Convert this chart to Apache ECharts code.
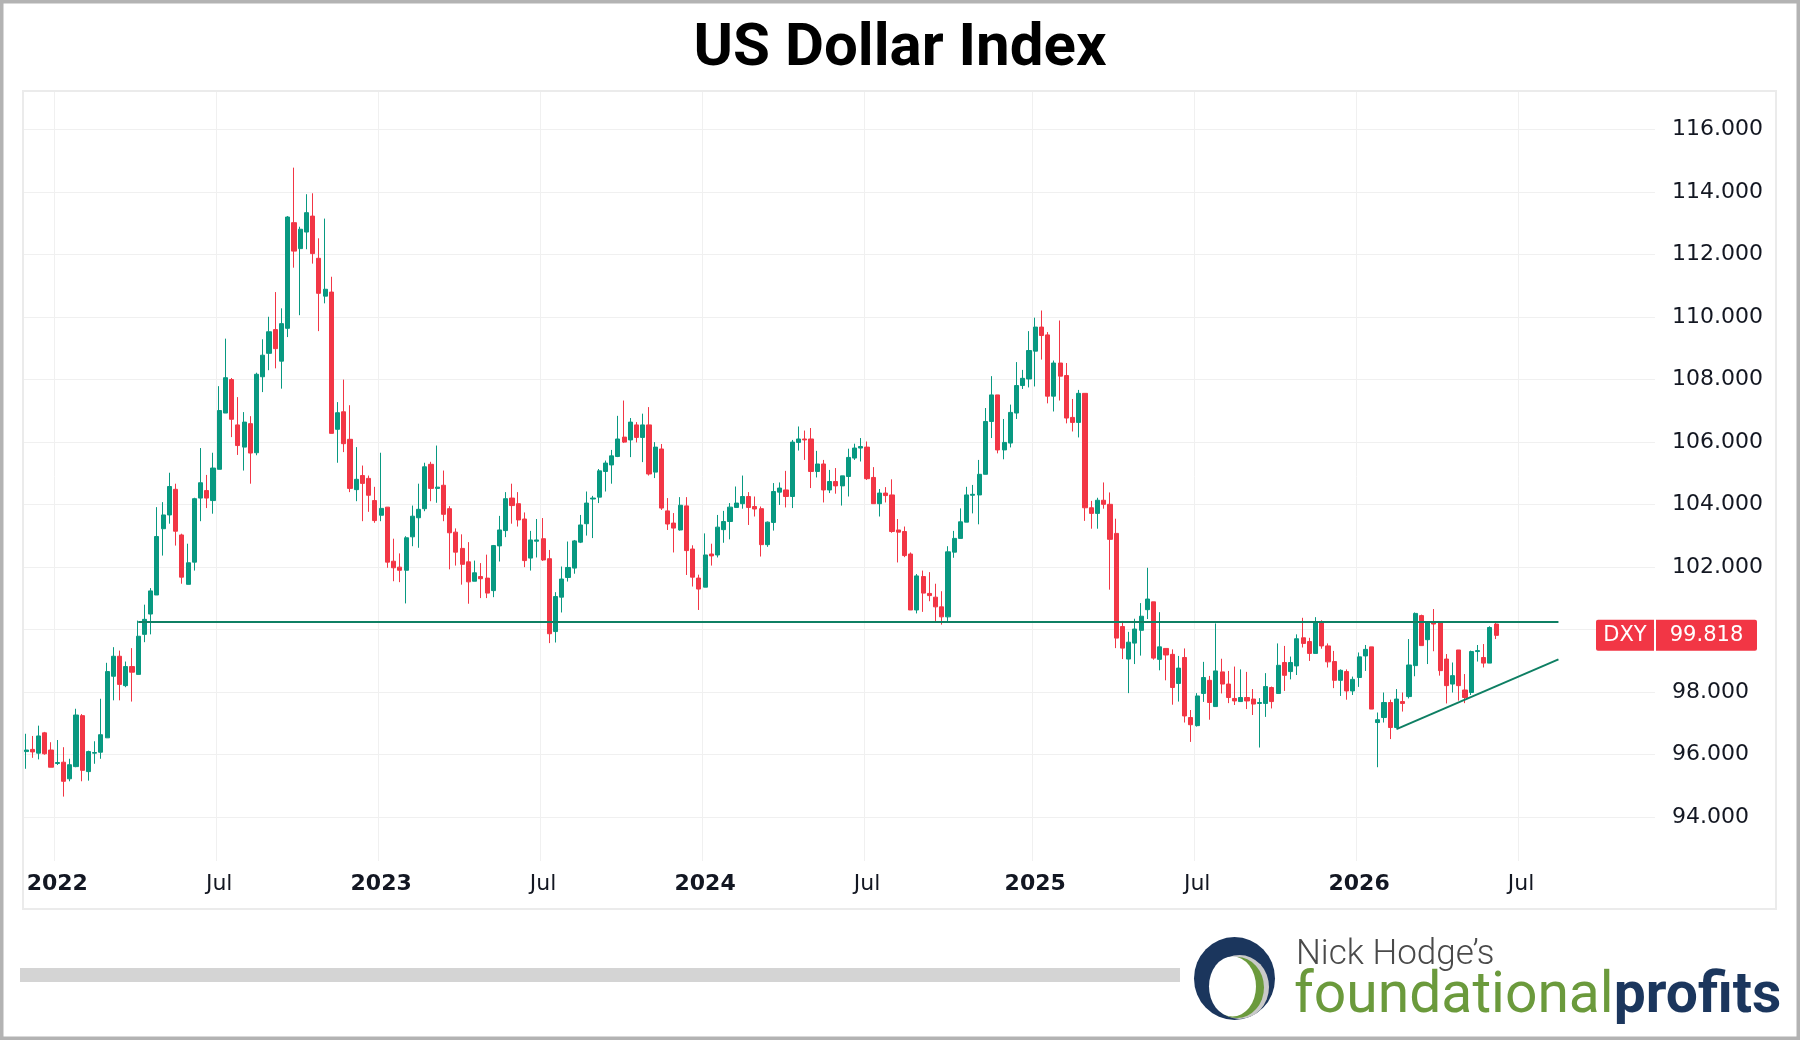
<!DOCTYPE html>
<html>
<head>
<meta charset="utf-8">
<title>US Dollar Index</title>
<script src="https://cdn.jsdelivr.net/npm/echarts@6/dist/echarts.min.js"></script>
<style>
  html, body { margin: 0; padding: 0; background: #fff; }
  #chart { width: 1800px; height: 1040px; }
</style>
</head>
<body>
<div id="chart"></div>
<script>
// weekly DXY candles, first bar = week of 2021-11-29
var firstWeek = '2021-11-29';
var weekCount = 262; // axis runs past the last bar, to mid-Jan 2027

var open = [
  96.10, 96.17, 96.05, 96.70, 96.15, 95.72, 95.76, 95.23, 95.62, 97.25,
  95.46, 96.05, 96.08, 96.54, 98.51, 99.15, 98.21, 98.82, 98.57, 99.85,
  100.50, 101.11, 103.23, 103.67, 104.49, 103.03, 101.45, 102.16, 104.21, 104.45,
  104.13, 105.13, 106.93, 108.00, 106.55, 105.84, 106.59, 105.66, 108.09, 108.84,
  109.60, 108.59, 109.64, 113.02, 112.19, 112.72, 113.23, 111.88, 110.67, 110.80,
  106.41, 106.97, 106.09, 104.48, 104.93, 104.84, 104.13, 103.66, 103.92, 102.19,
  102.00, 101.90, 102.97, 103.58, 103.87, 105.29, 104.52, 104.62, 103.87, 103.12,
  102.60, 102.17, 101.55, 101.70, 101.65, 101.25, 102.68, 103.17, 104.21, 104.03,
  103.54, 102.29, 102.83, 102.91, 102.27, 99.94, 101.04, 101.67, 101.97, 102.80,
  103.39, 104.18, 104.24, 105.06, 105.27, 105.54, 106.16, 106.07, 106.55, 106.15,
  106.55, 105.04, 105.78, 103.80, 103.41, 103.19, 103.96, 102.58, 101.65, 101.36,
  102.42, 102.39, 103.20, 103.46, 103.91, 104.03, 104.26, 103.94, 103.87, 102.72,
  103.43, 104.40, 104.47, 104.26, 105.99, 106.10, 106.10, 105.06, 105.30, 104.47,
  104.74, 104.60, 104.90, 105.49, 105.81, 105.84, 104.87, 104.03, 104.37, 104.31,
  103.19, 103.14, 102.42, 100.63, 101.70, 101.16, 101.04, 100.73, 100.41, 102.48,
  102.92, 103.44, 104.30, 104.31, 104.97, 106.66, 107.51, 105.75, 105.97, 106.93,
  107.81, 108.02, 108.91, 109.68, 109.43, 107.47, 108.53, 108.13, 106.79, 106.63,
  107.56, 103.90, 103.72, 104.14, 104.01, 103.08, 100.10, 99.06, 99.57, 99.98,
  100.64, 100.89, 99.05, 99.40, 99.21, 98.28, 99.11, 97.19, 96.93, 97.96,
  98.38, 97.54, 98.65, 98.26, 97.80, 97.70, 97.83, 97.78, 97.64, 97.64,
  98.15, 97.96, 98.95, 98.66, 98.84, 99.74, 99.62, 99.24, 100.22, 99.48,
  98.98, 98.38, 98.66, 98.04, 98.47, 99.16, 99.45, 97.03, 97.19, 97.67,
  96.87, 97.70, 97.86, 98.85, 100.45, 99.68, 100.23, 100.23, 99.06, 98.26,
  99.35, 98.07, 97.99, 99.30, 99.11, 98.93, 100.18
];
var close = [
  96.15, 96.09, 96.60, 96.03, 95.60, 95.75, 95.15, 95.68, 97.27, 95.50,
  96.10, 96.07, 96.64, 98.66, 99.15, 98.25, 98.82, 98.64, 99.79, 100.33,
  101.24, 102.98, 103.67, 104.58, 103.15, 101.68, 102.14, 104.19, 104.70, 104.21,
  105.17, 107.01, 108.06, 106.73, 105.89, 106.64, 105.65, 108.17, 108.78, 109.53,
  108.99, 109.79, 113.20, 112.11, 112.81, 113.34, 112.03, 110.76, 110.89, 106.28,
  106.94, 105.95, 104.52, 104.81, 104.68, 104.30, 103.49, 103.88, 102.16, 101.98,
  101.90, 102.94, 103.63, 103.85, 105.21, 104.52, 104.56, 103.69, 103.10, 102.48,
  102.09, 101.53, 101.82, 101.63, 101.17, 102.69, 103.19, 104.19, 103.97, 103.51,
  102.21, 102.87, 102.87, 102.23, 99.87, 101.06, 101.62, 101.99, 102.84, 103.35,
  104.05, 104.21, 105.08, 105.33, 105.56, 106.10, 106.00, 106.64, 106.15, 106.55,
  104.98, 105.84, 103.89, 103.38, 103.25, 103.98, 102.53, 101.68, 101.30, 102.39,
  102.36, 103.28, 103.46, 103.92, 104.05, 104.26, 103.91, 103.86, 102.72, 103.44,
  104.42, 104.53, 104.26, 106.00, 106.10, 106.07, 105.06, 105.30, 104.47, 104.74,
  104.60, 104.92, 105.51, 105.81, 105.86, 104.83, 104.03, 104.37, 104.29, 103.14,
  103.12, 102.37, 100.63, 101.72, 101.17, 101.09, 100.73, 100.41, 102.49, 102.92,
  103.45, 104.31, 104.33, 104.97, 106.66, 107.51, 105.75, 105.99, 106.95, 107.81,
  108.04, 108.93, 109.68, 109.41, 107.47, 108.53, 108.11, 106.77, 106.63, 107.56,
  103.90, 103.72, 104.14, 104.01, 102.89, 99.73, 99.41, 99.60, 100.02, 100.43,
  100.98, 99.09, 99.45, 99.19, 98.15, 98.77, 97.24, 96.96, 97.88, 98.47,
  97.67, 98.68, 98.26, 97.83, 97.72, 97.83, 97.72, 97.62, 97.67, 98.18,
  97.70, 98.86, 98.54, 98.95, 99.71, 99.56, 99.24, 100.22, 99.48, 98.97,
  98.38, 98.70, 98.04, 98.41, 99.13, 99.37, 97.46, 97.12, 97.67, 96.87,
  97.78, 97.64, 98.87, 100.52, 99.49, 100.26, 100.18, 98.69, 98.21, 98.53,
  98.21, 97.83, 99.30, 99.33, 98.93, 100.07, 99.818
];
var low = [
  95.55, 95.90, 95.85, 96.00, 95.60, 95.67, 94.66, 95.15, 95.60, 95.15,
  95.17, 95.71, 95.87, 96.54, 97.74, 97.74, 98.16, 97.70, 98.57, 99.60,
  99.85, 101.11, 102.37, 103.39, 102.69, 101.47, 101.45, 101.89, 103.47, 103.89,
  103.71, 105.13, 106.93, 106.16, 105.59, 105.09, 104.67, 105.58, 107.60, 108.30,
  108.36, 107.71, 109.36, 111.58, 110.06, 112.17, 111.71, 109.55, 110.44, 106.28,
  105.34, 105.68, 104.40, 104.11, 103.47, 103.77, 103.42, 103.47, 101.98, 101.55,
  101.52, 100.84, 102.67, 102.62, 103.79, 104.11, 104.06, 103.47, 101.93, 102.05,
  101.44, 100.83, 101.55, 101.01, 101.01, 101.04, 102.18, 102.96, 103.39, 103.30,
  102.00, 101.89, 102.31, 102.20, 99.57, 99.59, 100.55, 101.54, 101.79, 102.77,
  103.01, 102.93, 104.05, 104.42, 104.67, 105.52, 105.97, 105.52, 105.99, 105.36,
  104.93, 104.85, 103.83, 103.19, 102.47, 103.17, 101.75, 101.38, 100.63, 101.36,
  102.05, 102.31, 102.78, 102.89, 103.91, 103.87, 103.35, 103.62, 102.34, 102.65,
  103.17, 103.99, 103.91, 103.89, 105.73, 105.43, 104.53, 104.87, 104.07, 104.37,
  104.35, 103.97, 104.26, 105.43, 105.38, 104.79, 104.03, 103.62, 104.07, 103.10,
  102.15, 102.32, 100.63, 100.52, 100.57, 100.91, 100.24, 100.16, 100.24, 102.30,
  102.92, 103.44, 103.72, 103.37, 104.97, 106.13, 105.64, 105.45, 105.83, 106.74,
  107.70, 107.75, 107.78, 108.64, 107.24, 106.98, 107.33, 106.60, 106.34, 106.15,
  103.48, 103.23, 103.23, 103.87, 101.28, 99.41, 99.06, 97.97, 98.90, 99.17,
  100.34, 99.04, 98.70, 98.38, 97.60, 97.70, 97.03, 96.41, 96.90, 97.69,
  97.12, 97.54, 97.96, 97.65, 97.59, 97.70, 97.46, 97.27, 96.23, 97.21,
  97.48, 97.96, 98.04, 98.41, 98.55, 99.43, 99.00, 99.24, 99.39, 98.79,
  98.13, 97.88, 97.76, 97.91, 98.17, 98.68, 97.46, 95.60, 97.03, 96.50,
  96.87, 97.38, 97.80, 98.51, 99.49, 98.90, 99.31, 98.53, 97.64, 97.99,
  97.73, 97.65, 97.91, 98.98, 98.79, 98.93, 99.70
];
var high = [
  96.67, 96.60, 96.93, 96.73, 96.40, 96.47, 96.24, 95.87, 97.47, 97.30,
  96.13, 96.43, 97.79, 98.94, 99.44, 99.33, 98.98, 99.41, 100.29, 100.80,
  101.33, 103.92, 104.08, 105.02, 104.67, 103.07, 102.75, 104.22, 105.81, 104.95,
  105.66, 107.79, 109.31, 108.05, 107.44, 106.96, 106.83, 108.22, 109.29, 110.01,
  110.80, 110.28, 113.23, 114.78, 112.89, 113.93, 113.96, 112.52, 113.15, 111.29,
  107.28, 108.00, 107.18, 105.84, 105.25, 104.93, 104.57, 105.66, 103.92, 102.91,
  102.44, 102.99, 103.97, 104.67, 105.34, 105.37, 105.89, 105.09, 103.95, 103.24,
  103.05, 102.80, 102.21, 102.13, 102.40, 102.71, 103.64, 104.40, 104.67, 104.40,
  103.75, 103.16, 103.54, 103.57, 102.55, 101.20, 102.02, 102.82, 102.87, 103.67,
  104.42, 104.28, 105.14, 105.41, 105.75, 106.84, 107.33, 106.77, 106.64, 106.91,
  107.12, 106.00, 105.94, 104.21, 103.73, 104.24, 104.24, 102.70, 101.76, 103.08,
  102.75, 103.67, 103.80, 104.05, 104.58, 104.93, 104.40, 104.26, 103.94, 103.46,
  104.69, 104.71, 105.08, 106.07, 106.50, 106.37, 106.45, 105.72, 105.43, 105.11,
  105.17, 104.92, 105.79, 105.95, 106.13, 106.02, 105.20, 104.50, 104.56, 104.81,
  103.54, 103.30, 102.47, 101.78, 101.89, 101.84, 101.47, 101.23, 102.67, 103.16,
  103.88, 104.57, 104.63, 105.43, 107.09, 108.11, 107.51, 106.74, 107.20, 108.56,
  108.31, 109.55, 109.98, 110.21, 109.52, 108.61, 109.89, 108.53, 107.38, 107.67,
  107.56, 104.12, 104.22, 104.71, 104.39, 103.55, 100.28, 99.93, 100.35, 100.85,
  101.98, 100.89, 100.56, 99.40, 99.37, 99.16, 99.40, 97.43, 97.97, 98.97,
  98.52, 100.20, 99.07, 98.68, 98.82, 98.73, 98.65, 98.10, 97.81, 98.61,
  98.18, 99.56, 99.48, 99.14, 99.85, 100.38, 99.74, 100.40, 100.30, 99.56,
  99.32, 98.73, 98.73, 98.50, 99.27, 99.51, 99.45, 97.35, 97.99, 97.76,
  98.10, 97.99, 99.70, 100.55, 100.48, 100.26, 100.66, 100.26, 99.22, 98.95,
  99.35, 98.58, 99.33, 99.51, 99.54, 100.11, 100.23
];

// drawn lines: resistance level and rising trendline [week, price]
var resistance = [['2022-04-04', 100.24], ['2026-08-17', 100.24]];
var trendline = [['2026-02-16', 96.82], ['2026-08-17', 99.05]];

var priceTicks = [94, 96, 98, 100, 102, 104, 106, 108, 110, 112, 114, 116];
var symbolName = 'DXY';

var upColor = '#089981', downColor = '#f23645', lineColor = '#0e7f63';
var labelFont = 'DejaVu Sans';

function pad(n) { return n < 10 ? '0' + n : '' + n; }
var weeks = [];
var t0 = Date.parse(firstWeek + 'T00:00:00Z');
for (var i = 0; i < weekCount; i++) {
    var d = new Date(t0 + i * 7 * 86400000);
    weeks.push(d.getUTCFullYear() + '-' + pad(d.getUTCMonth() + 1) + '-' + pad(d.getUTCDate()));
}
// first week of January / July gets a tick
function isTick(v) {
    if (typeof v !== 'string') return false;
    var m = +v.slice(5, 7), day = +v.slice(8, 10);
    return (m === 1 || m === 7) && day <= 7;
}

var candles = open.map(function (o, i) {
    return [o, close[i], low[i], high[i]];
});
var lastClose = close[close.length - 1];
// the price tag covers the tick label next to the last close
var labelTicks = priceTicks.filter(function (v) { return Math.abs(v - lastClose) > 1; });

var chart = echarts.init(document.getElementById('chart'));
var option = {
    backgroundColor: '#fff',
    animation: false,
    title: {
        text: 'US Dollar Index',
        left: 'center',
        top: 15,
        textStyle: { fontFamily: 'Roboto', fontSize: 60, fontWeight: 'bold', color: '#000' }
    },
    grid: { left: 23, right: 145, top: 92, bottom: 179 },
    xAxis: {
        type: 'category',
        data: weeks,
        boundaryGap: true,
        axisLine: { show: false },
        axisTick: { show: false },
        axisLabel: {
            interval: function (i, v) { return isTick(v); },
            margin: 12,
            formatter: function (v) {
                return v.slice(5, 7) === '01' ? '{y|' + v.slice(0, 4) + '}' : '{m|Jul}';
            },
            rich: {
                y: { fontFamily: labelFont, fontSize: 22, fontWeight: 'bold', color: '#131722' },
                m: { fontFamily: labelFont, fontSize: 22, color: '#131722' }
            }
        },
        splitLine: {
            show: true,
            showMaxLine: false,
            interval: function (i, v) { return isTick(v); },
            lineStyle: { color: '#f0f0f0', width: 1 }
        }
    },
    yAxis: {
        type: 'value',
        position: 'right',
        min: 92.6,
        max: 117.2,
        scale: true,
        axisLine: { show: false },
        axisTick: { show: false, customValues: priceTicks },
        axisLabel: {
            customValues: labelTicks,
            margin: 17,
            padding: [5, 0, 0, 0],
            fontFamily: labelFont,
            fontSize: 22,
            color: '#131722',
            formatter: function (v) { return v.toFixed(3); }
        },
        splitLine: { show: true, lineStyle: { color: '#f0f0f0', width: 1 } }
    },
    series: [{
        type: 'candlestick',
        name: symbolName,
        data: candles,
        barWidth: '74%',
        itemStyle: {
            color: upColor, color0: downColor,
            borderColor: upColor, borderColor0: downColor,
            borderWidth: 1
        },
        markLine: {
            silent: true,
            animation: false,
            symbol: ['none', 'none'],
            lineStyle: { color: lineColor, width: 2, type: 'solid' },
            label: { show: false },
            emphasis: { disabled: true },
            data: [
                [{ coord: resistance[0] }, { coord: resistance[1] }],
                [{ coord: trendline[0] }, { coord: trendline[1] }],
                {
                    yAxis: lastClose,
                    lineStyle: { color: 'rgba(0,0,0,0)', width: 1 },
                    label: {
                        show: true,
                        position: 'end',
                        distance: [-59, 0],
                        formatter: '{a|' + symbolName + '}{s|}{b|' + lastClose.toFixed(3) + '}',
                        rich: {
                            a: { fontFamily: labelFont, fontSize: 21, color: '#fff', backgroundColor: downColor,
                                 width: 44, align: 'center', padding: [5, 7], borderRadius: [2, 0, 0, 2] },
                            s: { width: 2 },
                            b: { fontFamily: labelFont, fontSize: 21, color: '#fff', backgroundColor: downColor,
                                 width: 75, align: 'center', padding: [5, 13], borderRadius: [0, 2, 2, 0] }
                        }
                    }
                }
            ]
        }
    }],
    graphic: [
        // pane frame
        { type: 'rect', silent: true, z: 1, shape: { x: 23, y: 91, width: 1753, height: 818 },
          style: { fill: 'none', stroke: '#ebebeb', lineWidth: 2 } },
        // outer border
        { type: 'rect', silent: true, z: 100, shape: { x: 0, y: 0, width: 1800, height: 1040 },
          style: { fill: 'none', stroke: '#b3b3b3', lineWidth: 7 } },
        // grey bar
        { type: 'rect', silent: true, shape: { x: 20, y: 968, width: 1160, height: 14 },
          style: { fill: '#d4d4d4' } },
        // logo mark
        { type: 'group', silent: true, children: [
            { type: 'circle', shape: { cx: 0, cy: 0, r: 1 }, x: 1234.5, y: 978.5, scaleX: 40.5, scaleY: 41.5,
              style: { fill: '#1b365d' } },
            { type: 'circle', shape: { cx: 0, cy: 0, r: 1 }, x: 1239.5, y: 987, scaleX: 29.5, scaleY: 32,
              style: { fill: '#c9c9c9' } },
            { type: 'circle', shape: { cx: 0, cy: 0, r: 1 }, x: 1237, y: 987.5, scaleX: 27, scaleY: 30.5,
              style: { fill: '#6b9a3c' } },
            { type: 'circle', shape: { cx: 0, cy: 0, r: 1 }, x: 1232.5, y: 986.5, scaleX: 23.5, scaleY: 30,
              style: { fill: '#fff' } }
        ] },
        { type: 'text', silent: true, x: 1296, y: 955,
          style: { text: 'Nick Hodge\u2019s', fontFamily: 'Roboto', fontWeight: 300, fontSize: 35,
                   fill: '#4a4a4a', verticalAlign: 'middle', align: 'left' } },
        { type: 'text', silent: true, x: 1294, y: 998,
          style: {
              text: '{g|foundational}{p|profits}',
              verticalAlign: 'middle', align: 'left',
              rich: {
                  g: { fontFamily: 'Roboto', fontSize: 57, fill: '#6b9a3c', color: '#6b9a3c' },
                  p: { fontFamily: 'Roboto', fontSize: 57, fontWeight: 'bold', fill: '#1b365d', color: '#1b365d' }
              }
          } }
    ]
};
chart.setOption(option);
</script>
</body>
</html>
